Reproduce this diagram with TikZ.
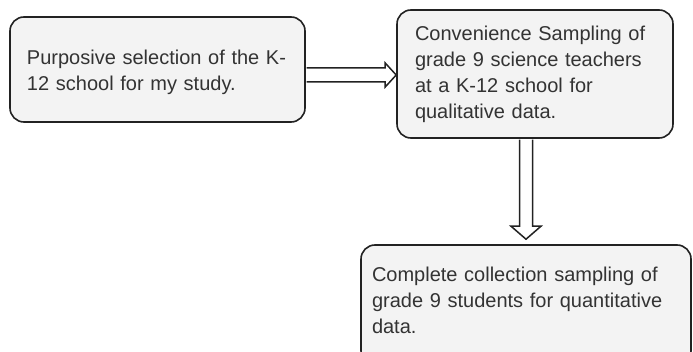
\documentclass[tikz,border=0pt]{standalone}
\usepackage{fontspec}
\setmainfont{Liberation Sans}
\usetikzlibrary{calc}
\definecolor{boxgray}{HTML}{F3F3F3}
\definecolor{textgray}{HTML}{333333}
\definecolor{linegray}{HTML}{222222}
\begin{document}
\begin{tikzpicture}[x=1pt,y=-1pt,
  box/.style={draw=linegray, line width=1.6pt, fill=boxgray, rounded corners=14pt,
    align=left, font=\fontsize{20}{26}\selectfont, text=textgray, inner ysep=0pt},
  hollow/.style={draw=linegray, line width=1.5pt, fill=white, line join=miter}]
\useasboundingbox (0,0) rectangle (693,352);
\clip (0,0) rectangle (693,352);

% process boxes
\node[box, minimum width=295pt, minimum height=105pt, inner xsep=17pt, text width=261pt]
  (b1) at (157.5,69.5) {\rule{0pt}{19.5pt}\mbox{Purposive selection of the K-}\\12 school for my study.};
\node[box, minimum width=276pt, minimum height=128pt, inner xsep=18pt, text width=240pt]
  (b2) at (535,74) {Convenience Sampling of\\grade 9 science teachers\\at a K-12 school for\\qualitative data.};
\node[box, minimum width=330pt, minimum height=120pt, inner xsep=11pt, text width=308pt]
  (b3) at (526,305) {Complete collection sampling of\\grade 9 students for quantitative\\data.\rule[-10pt]{0pt}{10pt}};

% hollow block arrow b1 -> b2
\coordinate (hs) at ($(b1.east)+(0,5.5)$);
\coordinate (he) at (b2.west |- hs);
\draw[hollow] ($(hs)+(0.8,-7)$) -- ($(he)+(-11,-7)$) -- ($(he)+(-11,-12)$) -- (he)
  -- ($(he)+(-11,12)$) -- ($(he)+(-11,7)$) -- ($(hs)+(0.8,7)$);

% hollow block arrow b2 -> b3
\coordinate (vs) at (b3.north |- b2.south);
\coordinate (ve) at ($(b3.north)+(0,-5)$);
\draw[hollow] ($(vs)+(-6.5,0.8)$) -- ($(ve)+(-6.5,-13)$) -- ($(ve)+(-15,-13)$) -- (ve)
  -- ($(ve)+(15,-13)$) -- ($(ve)+(6.5,-13)$) -- ($(vs)+(6.5,0.8)$);
\end{tikzpicture}
\end{document}
